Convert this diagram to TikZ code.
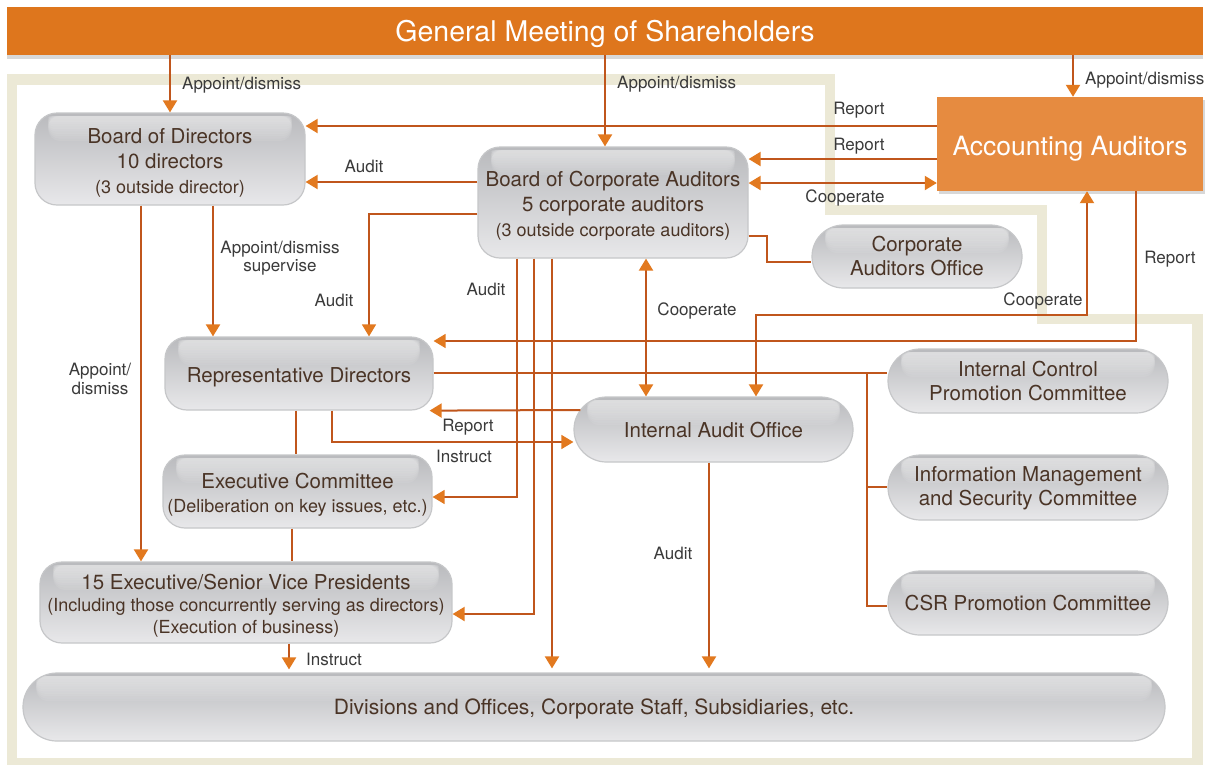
\documentclass[tikz,border=0pt]{standalone}
\usepackage{fontspec}
\setmainfont{TeX Gyre Heros}
\usetikzlibrary{arrows.meta,calc,shadows}
\definecolor{lc}{HTML}{C0561C}
\definecolor{ac}{HTML}{E2791F}
\definecolor{banner}{HTML}{DE761D}
\definecolor{aac}{HTML}{E68B40}
\definecolor{framec}{HTML}{ECE9D6}
\definecolor{boxtxt}{HTML}{4A3426}
\definecolor{lbl}{HTML}{3A3A3A}
\definecolor{gtop}{HTML}{B9BABD}
\definecolor{gbot}{HTML}{E8E8EA}
\definecolor{gedge}{HTML}{C6C7C9}
\tikzset{
  gbox/.style={draw=gedge, line width=1.2pt, top color=gtop, bottom color=gbot,
    inner sep=0pt, rounded corners=22pt,
    path picture={
      \foreach \k in {0,...,9}{
        \pgfmathsetmacro{\hh}{28-2.4*\k}
        \pgfmathsetmacro{\rr}{min(12,(\hh-3)/2)}
        \fill[white, fill opacity=0.075, rounded corners=\rr pt]
          ($(path picture bounding box.north west)+(13,3)$) rectangle
          ($(path picture bounding box.north east)+(-13,\hh)$);
      }}},
  gtext/.style={inner sep=0pt, align=center, text=boxtxt, font=\fontsize{20.5}{25}\selectfont},
  lab/.style={text=lbl, font=\fontsize{17}{18.5}\selectfont, inner sep=0pt, align=center},
  arr/.style={draw=lc, line width=2pt, -{Triangle[width=14pt,length=12pt,color=ac]}},
  arrthin/.style={arr, line width=1.4pt},
  darr/.style={draw=lc, line width=2pt, {Triangle[width=14pt,length=12pt,color=ac]}-{Triangle[width=14pt,length=12pt,color=ac]}},
  plain/.style={draw=lc, line width=1.4pt},
}
\newcommand{\sm}{\fontsize{18}{22}\selectfont}
\begin{document}
\begin{tikzpicture}[x=1pt,y=-1pt]
\useasboundingbox (0,0) rectangle (1209,764);
\fill[white] (0,0) rectangle (1209,764);
% frame
\draw[framec, line width=10.5pt] (12,79.5) -- (830,79.5) -- (830,210) -- (1042,210) -- (1042,319) -- (1197.5,319) -- (1197.5,763) -- (12,763) -- cycle;

% banner
\node[fill=banner, minimum width=1196, minimum height=48, inner sep=0pt,
  drop shadow={shadow xshift=0pt, shadow yshift=-4pt, opacity=0.3}] (gm) at (605,31) {};
\node[text=white, inner sep=0pt, font=\fontsize{28.5}{30}\selectfont] (gmt) at ($(gm.center)+(0,3)$) {General Meeting of Shareholders};

% accounting auditors
\node[fill=aac, minimum width=266, minimum height=94, inner sep=0pt,
  drop shadow={shadow xshift=2pt, shadow yshift=-3pt, opacity=0.3}] (aa) at (1070,144) {};
\node[text=white, inner sep=0pt, font=\fontsize{26.5}{30}\selectfont] (aat) at ($(aa.center)+(0,5)$) {Accounting Auditors};

% gray boxes
\node[gbox, minimum width=270, minimum height=92] (bod) at (170,159) {};
\node[gtext] (bodt) at ($(bod.center)+(0,3.5)$)
  {Board of Directors\\10 directors\\{\sm (3 outside director)}};
\node[gbox, minimum width=270, minimum height=111] (bca) at (613,202.5) {};
\node[gtext] (bcat) at ($(bca.center)+(0,3)$)
  {Board of Corporate Auditors\\5 corporate auditors\\{\sm (3 outside corporate auditors)}};
\node[gbox, minimum width=210, minimum height=63, rounded corners=31.5pt] (cao) at (917,256.5) {};
\node[gtext] (caot) at ($(cao.center)+(0,0)$) {Corporate\\[-1pt]Auditors Office};
\node[gbox, minimum width=268, minimum height=73] (rd) at (299,373.5) {};
\node[gtext] (rdt) at ($(rd.center)+(0,3.5)$) {Representative Directors};
\node[gbox, minimum width=279, minimum height=65, rounded corners=32.5pt] (iao) at (713.5,429.5) {};
\node[gtext] (iaot) at ($(iao.center)+(0,1)$) {Internal Audit Office};
\node[gbox, minimum width=280, minimum height=64, rounded corners=32pt] (icpc) at (1028,381) {};
\node[gtext] (icpct) at ($(icpc.center)+(0,0.5)$) {Internal Control\\[-1pt]Promotion Committee};
\node[gbox, minimum width=280, minimum height=65, rounded corners=32.5pt] (imsc) at (1028,487.5) {};
\node[gtext] (imsct) at ($(imsc.center)+(0,1)$) {Information Management\\[-1pt]and Security Committee};
\node[gbox, minimum width=280, minimum height=64, rounded corners=32pt] (csr) at (1028,603) {};
\node[gtext] (csrt) at ($(csr.center)+(0,0.5)$) {CSR Promotion Committee};
\node[gbox, minimum width=269, minimum height=73] (ec) at (297.5,491.5) {};
\node[gtext] (ect) at ($(ec.center)+(0,3)$)
  {Executive Committee\\[-1pt]{\sm (Deliberation on key issues, etc.)}};
\node[gbox, minimum width=412, minimum height=81] (vp) at (246,602.5) {};
\node[gtext] (vpt) at ($(vp.center)+(0,3)$)
  {15 Executive/Senior Vice Presidents\\[-3pt]{\sm (Including those concurrently serving as directors)}\\[-3pt]{\sm (Execution of business)}};
\node[gbox, minimum width=1142, minimum height=68, rounded corners=34pt] (div) at (594,707) {};
\node[gtext, font=\fontsize{21}{25}\selectfont] (divt) at ($(div.center)+(0,2)$)
  {Divisions and Offices, Corporate Staff, Subsidiaries, etc.};

% connectors
\draw[arr] (170,0 |- gm.south) -- (170,0 |- bod.north);
\node[lab, anchor=west] (l1) at (182,85) {Appoint/dismiss};
\draw[arr] (605,0 |- gm.south) -- (605,0 |- bca.north);
\node[lab, anchor=west] (l2) at (617,84) {Appoint/dismiss};
\draw[arr] (1073,0 |- gm.south) -- (1073,0 |- aa.north);
\node[lab, anchor=west] (l3) at (1085,80) {Appoint/dismiss};

\draw[arr] (aa.west |- 0,126) -- (bod.east |- 0,126);
\node[lab] (l4) at (859,110) {Report};
\draw[arr] (aa.west |- 0,159) -- (bca.east |- 0,159);
\node[lab] (l5) at (859,146) {Report};
\draw[darr] (bca.east |- 0,183) -- (aa.west |- 0,183);
\node[lab] (l6) at (845,198) {Cooperate};

\draw[arr] (bca.west |- 0,182) -- (bod.east |- 0,182);
\node[lab] (l7) at (364,166) {Audit};
\draw[arrthin] (bca.west |- 0,214) -| (369,0 |- rd.north);
\node[lab] (l8) at (334,300) {Audit};
\draw[arr] (213,0 |- bod.south) -- (213,0 |- rd.north);
\node[lab] (l9) at (280,258) {Appoint/dismiss\\supervise};
\draw[arr] (141,0 |- bod.south) -- (141,0 |- vp.north);
\node[lab] (l10) at (100,379) {Appoint/\\dismiss};

\draw[arrthin] (517,0 |- bca.south) |- (ec.east |- 0,497);
\node[lab] (l11) at (486,289) {Audit};
\draw[arr] (534,0 |- bca.south) |- (vp.east |- 0,614);
\draw[arr] (552,0 |- bca.south) -- ($(552,0 |- div.north)+(0,-4)$);
\draw[darr] (646,0 |- bca.south) -- (646,0 |- iao.north);
\node[lab] (l14) at (697,311) {Cooperate};
\draw[plain] (bca.east |- 0,236) -- (767,236) |- (cao.west |- 0,262);

\draw[darr] (756,0 |- iao.north) |- (1087,315) -- (1087,0 |- aa.south);
\node[lab] (l16) at (1043,301) {Cooperate};
\draw[arrthin] (1136,0 |- aa.south) |- (rd.east |- 0,341);
\node[lab] (l17) at (1170,259) {Report};

\draw[plain] (rd.east |- 0,373) -- (867,373) -- (icpc.west |- 0,373);
\draw[plain] (867,373) |- (imsc.west |- 0,487);
\draw[plain] (867,373) |- (csr.west |- 0,606);

\draw[arr] ($(iao.west |- 0,410)+(7,0)$) -- ($(rd.south east)+(-4,0)$);
\node[lab] (l19) at (468,427) {Report};
\draw[arrthin] (332,0 |- rd.south) |- (iao.west |- 0,442);
\node[lab] (l20) at (464,456) {Instruct};

\draw[plain, line width=2pt] (296,0 |- rd.south) -- (296,0 |- ec.north);
\draw[plain, line width=2pt] (292,0 |- ec.south) -- (292,0 |- vp.north);
\draw[arr] (289,0 |- vp.south) -- ($(289,0 |- div.north)+(0,-3)$);
\node[lab] (l23) at (334,659) {Instruct};
\draw[arr] (709,0 |- iao.south) -- ($(709,0 |- div.north)+(0,-4)$);
\node[lab] (l24) at (673,553) {Audit};
\end{tikzpicture}
\end{document}
